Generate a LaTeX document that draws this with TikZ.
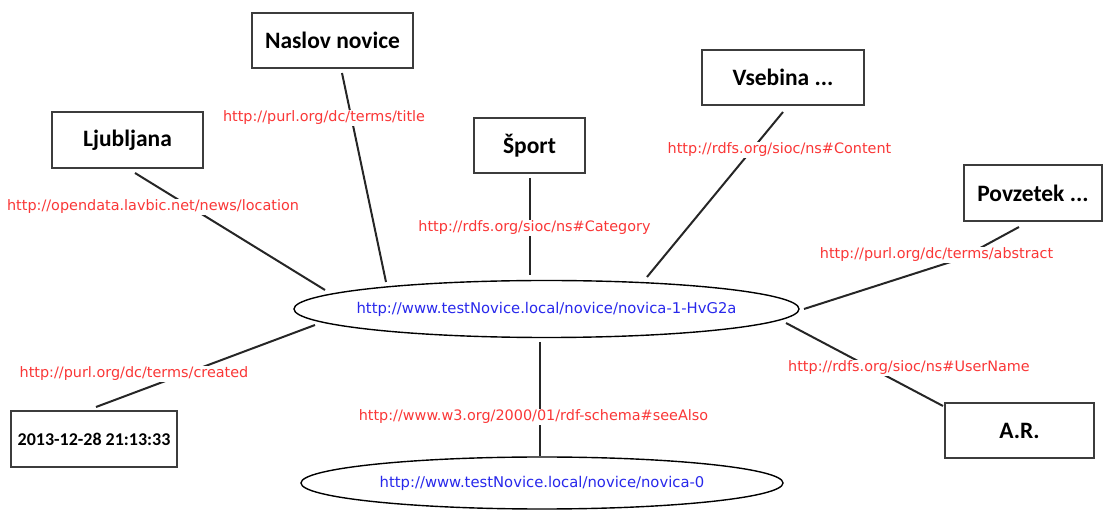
\documentclass[tikz,border=0pt]{standalone}
\usepackage{fontspec}
\setmainfont{DejaVu Sans}
\newfontfamily\boxfont{Carlito}
\definecolor{uriRed}{RGB}{250,55,55}
\definecolor{uriBlue}{RGB}{40,40,235}
\definecolor{frameGray}{RGB}{60,60,60}
\tikzset{
  x=1pt, y=-1pt,
  valbox/.style={draw=frameGray, line width=1.6pt, fill=white, inner sep=0pt,
    align=center, font=\boxfont\bfseries\fontsize{23.5}{26}\selectfont},
  res/.style={inner sep=0pt, text=uriBlue, font=\fontsize{14.8}{17}\selectfont},
  resline/.style={draw=black, line width=1.4pt},
  pred/.style={fill=white, inner sep=1.5pt, text=uriRed,
    font=\fontsize{14.4}{16}\selectfont},
  edge/.style={draw=black!85, line width=2pt}
}
\begin{document}
\begin{tikzpicture}
\useasboundingbox (0,0) rectangle (1104,510);

% resources: text with an ellipse drawn round it
\node[res] (main) at (546.5,309) {http://www.testNovice.local/novice/novica-1-HvG2a};
\draw[resline] (main.center) ellipse [x radius=252.5, y radius=28.5];
\node[res] (prev) at (542,483) {http://www.testNovice.local/novice/novica-0};
\draw[resline] (prev.center) ellipse [x radius=241, y radius=26];

% literal values
\node[valbox, minimum width=161pt, minimum height=55pt] (title) at (332.5,40.5) {Naslov novice};
\node[valbox, minimum width=151pt, minimum height=56pt] (loc) at (127.5,140) {Ljubljana};
\node[valbox, minimum width=111pt, minimum height=55pt] (cat) at (529.5,145.5) {Šport};
\node[valbox, minimum width=162pt, minimum height=55pt] (cont) at (783,77.5) {Vsebina ...};
\node[valbox, minimum width=138pt, minimum height=56pt] (abs) at (1033,193) {Povzetek ...};
\node[valbox, minimum width=149pt, minimum height=55pt] (user) at (1019.5,430.5) {A.R.};
\node[valbox, minimum width=166pt, minimum height=56pt,
      font=\boxfont\bfseries\fontsize{18}{21}\selectfont] (date) at (94,439) {2013-12-28 21:13:33};

% end points of the connectors
\coordinate (tA) at (342,73);   \coordinate (tB) at (386,282);
\coordinate (lA) at (135,173);  \coordinate (lB) at (325,290);
\coordinate (cA) at (530,178);  \coordinate (cB) at (530,275);
\coordinate (vA) at (783,112);  \coordinate (vB) at (647,277);
\coordinate (aA) at (1019,227); \coordinate (aM) at (960,259); \coordinate (aB) at (804,309);
\coordinate (dA) at (96,407);   \coordinate (dB) at (315,325);
\coordinate (uA) at (786,323);  \coordinate (uB) at (943,406);
\coordinate (sA) at (540,342);  \coordinate (sB) at (540,456);

% connectors
\draw[edge] (tA) -- (tB);
\draw[edge] (lA) -- (lB);
\draw[edge] (cA) -- (cB);
\draw[edge] (vA) -- (vB);
\draw[edge] (aA) -- (aM) -- (aB);
\draw[edge] (dA) -- (dB);
\draw[edge] (uA) -- (uB);
\draw[edge] (sA) -- (sB);

% predicate labels
\node[pred] (ptitle) at (324,118) {http://purl.org/dc/terms/title};
\node[pred] (ploc) at (153,207) {http://opendata.lavbic.net/news/location};
\node[pred] (pcat) at (534.5,228) {http://rdfs.org/sioc/ns\#Category};
\node[pred] (pcont) at (779.5,150) {http://rdfs.org/sioc/ns\#Content};
\node[pred] (pabs) at (936.5,255) {http://purl.org/dc/terms/abstract};
\node[pred] (pdate) at (134,374) {http://purl.org/dc/terms/created};
\node[pred] (puser) at (909,368) {http://rdfs.org/sioc/ns\#UserName};
\node[pred] (psee) at (533.5,417) {http://www.w3.org/2000/01/rdf-schema\#seeAlso};
\end{tikzpicture}
\end{document}
